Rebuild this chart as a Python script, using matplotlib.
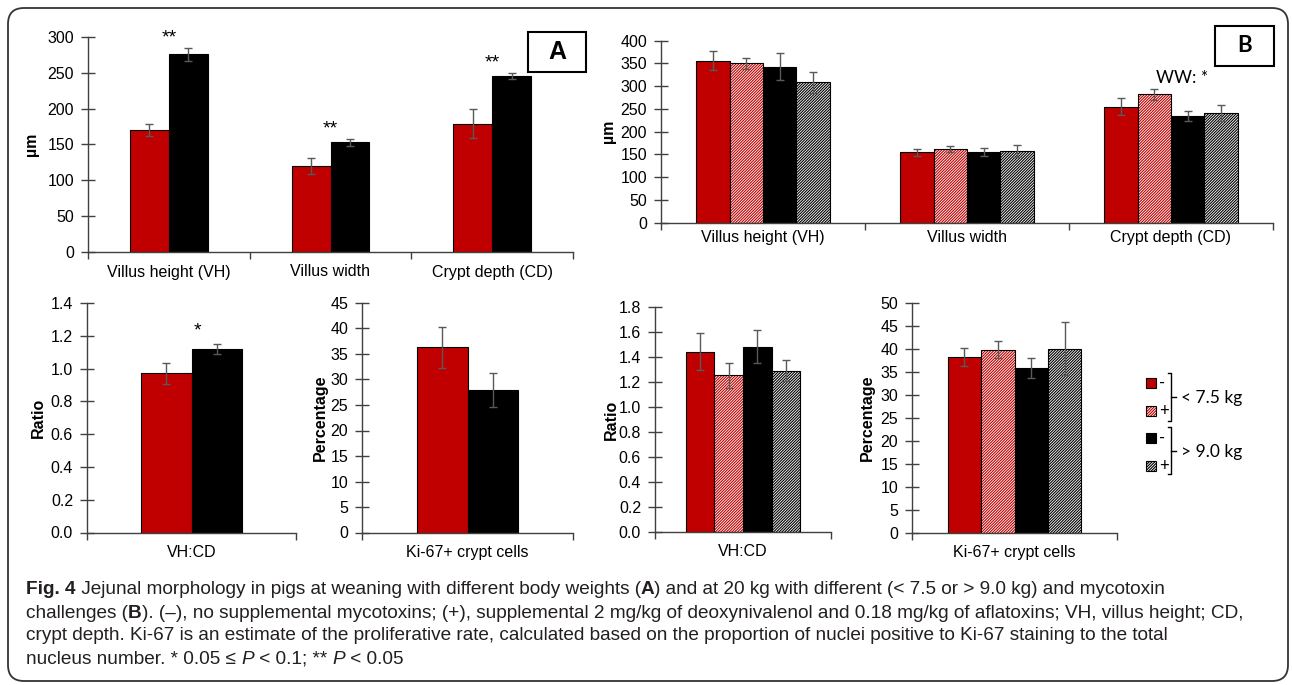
import numpy as np
import matplotlib.pyplot as plt
from matplotlib.patches import Rectangle, FancyBboxPatch
from matplotlib.lines import Line2D
from matplotlib.transforms import IdentityTransform
from matplotlib.ticker import FormatStrFormatter

plt.rcParams['font.family'] = ['Liberation Sans', 'DejaVu Sans']
plt.rcParams['hatch.linewidth'] = 0.8

W, H = 1292, 685
RED = '#c00000'
GREY = '#595959'

# Panel A (weaning, light vs heavy pigs)
morph_cats = ['Villus height (VH)', 'Villus width', 'Crypt depth (CD)']
a_light = [170, 120, 179]
a_light_err = [8.5, 11.5, 20]
a_heavy = [276, 153, 246]
a_heavy_err = [9, 5, 4.3]
a_ratio = [0.97, 1.117]
a_ratio_err = [0.063, 0.03]
a_ki67 = [36.3, 28.0]
a_ki67_err = [4.0, 3.3]

# Panel B (20 kg): <7.5 kg -, <7.5 kg +, >9.0 kg -, >9.0 kg +
b_vh = [356, 350, 343, 309]
b_vh_err = [21, 13, 30, 23]
b_vw = [155, 162, 155, 158]
b_vw_err = [8, 7, 9, 13]
b_cd = [255, 282, 234.5, 241]
b_cd_err = [18, 12, 11, 17]
b_ratio = [1.443, 1.256, 1.483, 1.29]
b_ratio_err = [0.15, 0.10, 0.13, 0.084]
b_ki67 = [38.3, 39.8, 35.9, 40.1]
b_ki67_err = [1.9, 1.85, 2.2, 5.7]

group_labels = ['-', '+', '-', '+']
weight_labels = ['< 7.5 kg', '> 9.0 kg']

# (face colour, hatch colour or None)
styles = [(RED, None), ('white', RED), ('black', None), ('white', 'black')]
HATCH = '/' * 12


def px(x, y):
    return x / W, 1 - y / H


def add_axes(x0, y0, x1, y1):
    return fig.add_axes([x0 / W, 1 - y1 / H, (x1 - x0) / W, (y1 - y0) / H])


def bars(ax, x, vals, errs, style, width):
    face, hcol = style
    if hcol is None:
        ax.bar(x, vals, width, color=face, edgecolor='black', lw=0.8, zorder=2)
    else:
        ax.bar(x, vals, width, color='white', edgecolor=hcol, hatch=HATCH, lw=0, zorder=2)
        ax.bar(x, vals, width, fill=False, edgecolor='black', lw=0.8, zorder=3)
    ax.errorbar(x, vals, yerr=errs, fmt='none', ecolor=GREY, elinewidth=1,
                capsize=3, capthick=1, zorder=4)


def style(ax, cats, ymax, step, fmt, ylabel, lab_x, cat_pad):
    n = len(cats)
    ax.set_xlim(-0.5, n - 0.5)
    ax.set_ylim(0, ymax)
    for s in ['top', 'right']:
        ax.spines[s].set_visible(False)
    for s in ['left', 'bottom']:
        ax.spines[s].set_color('#404040')
        ax.spines[s].set_linewidth(1)
    ax.set_yticks(np.arange(0, ymax + step / 2, step))
    ax.yaxis.set_major_formatter(FormatStrFormatter(fmt))
    ax.tick_params(axis='y', direction='inout', length=10, width=1, color='#404040',
                   labelsize=11.5, pad=5)
    ax.set_xticks(np.arange(-0.5, n, 1.0), labels=[''] * (n + 1))
    ax.tick_params(axis='x', which='major', direction='out', length=5, width=1, color='#404040')
    ax.set_xticks(np.arange(n), cats, minor=True)
    ax.tick_params(axis='x', which='minor', length=0, labelsize=11.5, pad=cat_pad)
    ax.set_ylabel(ylabel, fontsize=11.5, fontweight='bold', va='center')
    ax.yaxis.set_label_coords(lab_x, 0.5)


fig = plt.figure(figsize=(W / 100, H / 100), dpi=100)

# ---- Panel A top
ax = add_axes(88, 37, 573, 252)
x = np.arange(3)
bw = 0.24
bars(ax, x - bw / 2, a_light, a_light_err, styles[0], bw)
bars(ax, x + bw / 2, a_heavy, a_heavy_err, styles[2], bw)
for i in range(3):
    ax.text(i, a_heavy[i] + a_heavy_err[i] + 14, '**', ha='center', va='center', fontsize=14)
style(ax, morph_cats, 300, 50, '%d', 'µm', -0.1175, 9)

# ---- Panel B top
ax = add_axes(661, 40.7, 1273, 222.7)
bw = 0.163
b_morph = [[b_vh[k], b_vw[k], b_cd[k]] for k in range(4)]
b_morph_err = [[b_vh_err[k], b_vw_err[k], b_cd_err[k]] for k in range(4)]
for k in range(4):
    bars(ax, x + (k - 1.5) * bw, b_morph[k], b_morph_err[k], styles[k], bw)
style(ax, morph_cats, 400, 50, '%d', 'µm', -0.085, 5)

# ---- Panel A bottom
ax = add_axes(87, 303, 296, 532.5)
bw = 0.24
bars(ax, [-bw / 2], [a_ratio[0]], [a_ratio_err[0]], styles[0], bw)
bars(ax, [bw / 2], [a_ratio[1]], [a_ratio_err[1]], styles[2], bw)
ax.text(0.03, a_ratio[1] + a_ratio_err[1] + 0.08, '*', ha='center', va='center', fontsize=14)
style(ax, ['VH:CD'], 1.4, 0.2, '%.1f', 'Ratio', -0.234, 9)

ax = add_axes(362, 303, 573, 532.5)
bars(ax, [-bw / 2], [a_ki67[0]], [a_ki67_err[0]], styles[0], bw)
bars(ax, [bw / 2], [a_ki67[1]], [a_ki67_err[1]], styles[2], bw)
style(ax, ['Ki-67+ crypt cells'], 45, 5, '%d', 'Percentage', -0.199, 9)

# ---- Panel B bottom
bw = 0.163
ax = add_axes(655, 307, 831, 532)
for k in range(4):
    bars(ax, [(k - 1.5) * bw], [b_ratio[k]], [b_ratio_err[k]], styles[k], bw)
style(ax, ['VH:CD'], 1.8, 0.2, '%.1f', 'Ratio', -0.25, 9)

ax = add_axes(912, 303, 1117, 533)
for k in range(4):
    bars(ax, [(k - 1.5) * bw], [b_ki67[k]], [b_ki67_err[k]], styles[k], bw)
style(ax, ['Ki-67+ crypt cells'], 50, 5, '%d', 'Percentage', -0.22, 9)

# ---- panel letters and notes
for (x0, y0, x1, y1), letter, fam, size in [((528, 32, 586, 72), 'A', 'Liberation Sans', 18),
                                          ((1215, 26, 1274, 66), 'B', 'Lato', 16)]:
    fx, fy = px(x0, y1)
    fig.add_artist(Rectangle((fx, fy), (x1 - x0) / W, (y1 - y0) / H, transform=fig.transFigure,
                             fill=False, ec='black', lw=1.5))
    cx, cy = px((x0 + x1) / 2, (y0 + y1) / 2)
    fig.text(cx, cy, letter, ha='center', va='center', fontsize=size, fontweight='bold', family=fam)

fig.text(*px(1182, 78), 'WW: *', ha='center', va='center', fontsize=12.5, family='Lato')

# ---- legend
sq_y = [383, 411, 438, 466]
for k in range(4):
    face, hcol = styles[k]
    fx, fy = px(1146, sq_y[k] + 5)
    if hcol is None:
        fig.add_artist(Rectangle((fx, fy), 10 / W, 10 / H, transform=fig.transFigure,
                                 fc=face, ec='black', lw=0.8))
    else:
        fig.add_artist(Rectangle((fx, fy), 10 / W, 10 / H, transform=fig.transFigure,
                                 fc='white', ec=hcol, hatch=HATCH, lw=0))
        fig.add_artist(Rectangle((fx, fy), 10 / W, 10 / H, transform=fig.transFigure,
                                 fill=False, ec='black', lw=0.8))
    fig.text(*px(1159, sq_y[k]), group_labels[k], ha='left', va='center', fontsize=12, family='Lato')

for (ya, yb), lab in zip([(373, 421), (427, 474)], weight_labels):
    ym = (ya + yb) / 2
    for xs, ys in [([1168, 1171, 1171, 1168], [ya, ya, yb, yb]), ([1171, 1176], [ym, ym])]:
        pts = [px(a, b) for a, b in zip(xs, ys)]
        fig.add_artist(Line2D([p[0] for p in pts], [p[1] for p in pts], color='black', lw=1,
                              transform=fig.transFigure))
    fig.text(*px(1181, ym + 1), lab, ha='left', va='center', fontsize=12.5, family='Lato')

# ---- outer frame
fig.add_artist(FancyBboxPatch((8, 4), 1280, 673, boxstyle='round,pad=0,rounding_size=16',
                              transform=IdentityTransform(), fill=False, ec='#333333', lw=1.3))

# ---- caption
cap_lines = [
    [('Fig. 4', 'bold', 'normal'),
     (' Jejunal morphology in pigs at weaning with different body weights (', 'normal', 'normal'),
     ('A', 'bold', 'normal'),
     (') and at 20 kg with different (< 7.5 or > 9.0 kg) and mycotoxin', 'normal', 'normal')],
    [('challenges (', 'normal', 'normal'), ('B', 'bold', 'normal'),
     ('). (–), no supplemental mycotoxins; (+), supplemental 2 mg/kg of deoxynivalenol and '
      '0.18 mg/kg of aflatoxins; VH, villus height; CD,', 'normal', 'normal')],
    [('crypt depth. Ki-67 is an estimate of the proliferative rate, calculated based on the '
      'proportion of nuclei positive to Ki-67 staining to the total', 'normal', 'normal')],
    [('nucleus number. * 0.05 ≤ ', 'normal', 'normal'), ('P', 'normal', 'italic'),
     (' < 0.1; ** ', 'normal', 'normal'), ('P', 'normal', 'italic'), (' < 0.05', 'normal', 'normal')],
]
cap_y = [590, 613, 636, 659]
renderer = fig.canvas.get_renderer()
for segs, yy in zip(cap_lines, cap_y):
    xx = 26
    for txt, wt, st in segs:
        t = fig.text(*px(xx, yy), txt, ha='left', va='center', fontsize=13.7,
                     fontweight=wt, fontstyle=st, family='Liberation Sans', color='#231f20')
        xx += t.get_window_extent(renderer).width

fig.savefig('out.png', dpi=100)
